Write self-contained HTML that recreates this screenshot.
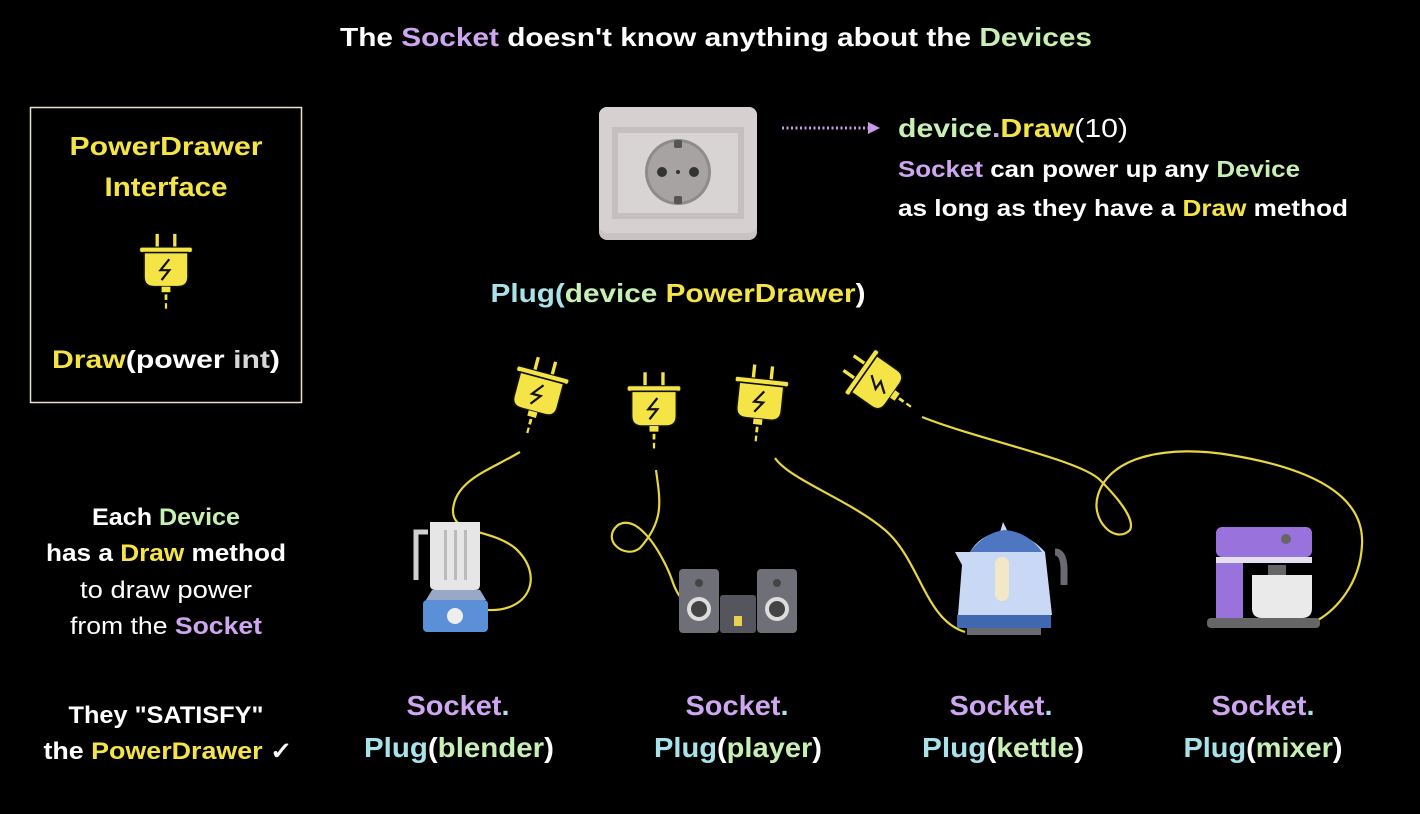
<!DOCTYPE html>
<html><head><meta charset="utf-8"><style>
html,body{margin:0;padding:0;background:#000;}
svg{display:block;font-family:"Liberation Sans",sans-serif;font-weight:bold;}
.p{fill:#cfa6f0}.g{fill:#c8f0b4}.y{fill:#f4e445}.c{fill:#a9e3ea}.w{fill:#fff}.gr{fill:#d8d8d8}
</style></head><body>
<svg width="1420" height="814" viewBox="0 0 1420 814">
<defs>
<g id="plug">
  <line x1="-8" y1="-31" x2="-8" y2="-18" stroke="#f4e445" stroke-width="3"/>
  <line x1="8" y1="-31" x2="8" y2="-18" stroke="#f4e445" stroke-width="3"/>
  <rect x="-24" y="-19" width="48" height="5" rx="2" fill="#f4e445" stroke="#111" stroke-width="1"/>
  <path d="M-20,-14 H20 V8 Q20,17 11,17 H-11 Q-20,17 -20,8 Z" fill="#f4e445" stroke="#111" stroke-width="1.5"/>
  <path d="M3,-8 L-5,2 L3,2 L-4,11" fill="none" stroke="#111" stroke-width="2"/>
  <rect x="-4" y="17" width="8" height="5" fill="#f4e445"/>
  <line x1="0" y1="24" x2="0" y2="29" stroke="#f4e445" stroke-width="2.5"/>
  <line x1="0" y1="32" x2="0" y2="37" stroke="#f4e445" stroke-width="2"/>
</g>
</defs>

<text x="716" y="46" text-anchor="middle" font-size="26" class="w" textLength="752" lengthAdjust="spacingAndGlyphs">The <tspan class="p">Socket</tspan> doesn't know anything about the <tspan class="g">Devices</tspan></text>

<rect x="30.5" y="107.5" width="271" height="295" fill="none" stroke="#e8e2c8" stroke-width="1.5"/>
<text x="166" y="155" text-anchor="middle" font-size="26" class="y" textLength="193" lengthAdjust="spacingAndGlyphs">PowerDrawer</text>
<text x="166" y="196" text-anchor="middle" font-size="27" class="y" textLength="123" lengthAdjust="spacingAndGlyphs">Interface</text>
<use href="#plug" transform="translate(166,268) scale(1.1)"/>
<text x="166" y="368" text-anchor="middle" font-size="25" class="w" textLength="228" lengthAdjust="spacingAndGlyphs"><tspan class="y">Draw</tspan>(power <tspan class="gr">int</tspan>)</text>

<rect x="599" y="107" width="158" height="133" rx="8" fill="#c9c3c3"/>
<rect x="599" y="107" width="158" height="126" rx="8" fill="#d6d0d0"/>
<rect x="612" y="127" width="132" height="92" fill="#c5bfbf"/>
<rect x="618" y="133" width="120" height="80" fill="#d9d4d4"/>
<circle cx="678" cy="172" r="33" fill="#8f8b8b"/>
<circle cx="678" cy="172" r="30" fill="#a8a3a3"/>
<rect x="674" y="140" width="8" height="8" rx="2" fill="#555"/>
<rect x="674" y="196" width="8" height="8" rx="2" fill="#555"/>
<circle cx="662" cy="172" r="5" fill="#333"/><circle cx="694" cy="172" r="5" fill="#333"/><circle cx="678" cy="172" r="2" fill="#333"/>

<line x1="782" y1="128" x2="868" y2="128" stroke="#c79be8" stroke-width="3" stroke-dasharray="2 2.5"/>
<path d="M868,122 L880,128 L868,134 Z" fill="#c79be8"/>

<text x="898" y="137" font-size="26" class="g" textLength="230" lengthAdjust="spacingAndGlyphs">device<tspan class="p">.</tspan><tspan class="y">Draw</tspan><tspan class="w" font-weight="normal">(10)</tspan></text>
<text x="898" y="177" font-size="23" class="w" textLength="402" lengthAdjust="spacingAndGlyphs"><tspan class="p">Socket</tspan> can power up any <tspan class="g">Device</tspan></text>
<text x="898" y="216" font-size="23" class="w" textLength="450" lengthAdjust="spacingAndGlyphs">as long as they have a <tspan class="y">Draw</tspan> method</text>

<text x="678" y="302" text-anchor="middle" font-size="26" class="c" textLength="375" lengthAdjust="spacingAndGlyphs">Plug(<tspan class="g">device </tspan><tspan class="y">PowerDrawer</tspan><tspan class="w">)</tspan></text>

<g fill="none" stroke="#e8d640" stroke-width="2.2">
<path d="M520,452 C490,470 455,480 453,510 C452,535 490,528 515,548 C545,575 530,612 488,610"/>
<path d="M656,470 C660,500 665,520 640,548 C625,560 600,540 618,525 C640,512 665,560 672,580 C678,598 685,605 700,608"/>
<path d="M775,458 C790,480 850,500 885,530 C920,560 925,620 965,632"/>
<path d="M922,417 C980,440 1080,460 1100,480 C1120,500 1135,520 1130,530 C1115,545 1090,520 1098,495 C1110,455 1170,445 1230,455 C1310,468 1365,495 1362,545 C1360,585 1335,610 1318,620"/>
</g>

<use href="#plug" transform="translate(538,393) rotate(15) scale(1.12)"/>
<use href="#plug" transform="translate(654,407) scale(1.12)"/>
<use href="#plug" transform="translate(760,400) rotate(6) scale(1.12)"/>
<use href="#plug" transform="translate(877,383) rotate(-55) scale(1.12)"/>

<g>
<path d="M428,532 H416 V580" fill="none" stroke="#d0d0d0" stroke-width="5"/>
<path d="M430,522 H480 V585 Q480,590 475,590 H436 Q430,590 430,585 Z" fill="#e6e6e6"/>
<rect x="444" y="530" width="3" height="50" fill="#bbb"/><rect x="454" y="530" width="3" height="50" fill="#bbb"/><rect x="464" y="530" width="3" height="50" fill="#bbb"/>
<path d="M432,590 H480 L486,600 H426 Z" fill="#9aa8c8"/>
<rect x="423" y="600" width="65" height="32" rx="4" fill="#5b8fd8"/>
<circle cx="455" cy="616" r="8" fill="#eee"/>
</g>

<rect x="679" y="569" width="40" height="64" rx="4" fill="#6f6f78"/>
<rect x="757" y="569" width="40" height="64" rx="4" fill="#6f6f78"/>
<circle cx="699" cy="583" r="4" fill="#444"/><circle cx="777" cy="583" r="4" fill="#444"/>
<circle cx="699" cy="609" r="12" fill="#ddd"/><circle cx="699" cy="609" r="8" fill="#444"/>
<circle cx="777" cy="609" r="12" fill="#ddd"/><circle cx="777" cy="609" r="8" fill="#444"/>
<rect x="720" y="595" width="36" height="38" rx="3" fill="#55555e"/>
<rect x="734" y="616" width="8" height="10" fill="#e8d050"/>

<path d="M1055,552 Q1065,552 1064,575 V585" fill="none" stroke="#6a6a72" stroke-width="7"/>
<path d="M1003,522 L1000,532 Q980,535 970,552 L955,552 L962,565 L958,615 H1052 L1045,552 Q1030,535 1008,532 Z" fill="#c8d8f5"/>
<path d="M970,552 Q985,532 1005,530 Q1028,532 1042,552 Z" fill="#4f76c0"/>
<rect x="995" y="557" width="14" height="44" rx="7" fill="#f2e8c8"/>
<rect x="957" y="615" width="94" height="13" fill="#3f68b0"/>
<rect x="967" y="628" width="74" height="7" fill="#6a6a72"/>

<rect x="1216" y="527" width="96" height="30" rx="6" fill="#9a72dc"/>
<rect x="1216" y="557" width="96" height="6" fill="#e5e0f0"/>
<rect x="1216" y="563" width="27" height="55" fill="#9a72dc"/>
<circle cx="1286" cy="539" r="5" fill="#666"/>
<rect x="1268" y="565" width="18" height="10" fill="#666"/>
<path d="M1252,575 H1312 V608 Q1312,618 1302,618 H1262 Q1252,618 1252,608 Z" fill="#eaeaea"/>
<rect x="1207" y="618" width="113" height="10" rx="4" fill="#666"/>

<g text-anchor="middle" font-size="24">
<text x="166" y="525" class="w" textLength="148" lengthAdjust="spacingAndGlyphs">Each <tspan class="g">Device</tspan></text>
<text x="166" y="561" class="w" textLength="240" lengthAdjust="spacingAndGlyphs">has a <tspan class="y">Draw</tspan> method</text>
<text x="166" y="598" class="w" font-weight="normal" textLength="172" lengthAdjust="spacingAndGlyphs">to draw power</text>
<text x="166" y="634" class="w" font-weight="normal" textLength="192" lengthAdjust="spacingAndGlyphs">from the <tspan class="p" font-weight="bold">Socket</tspan></text>
<text x="166" y="723" class="w" textLength="195" lengthAdjust="spacingAndGlyphs">They "SATISFY"</text>
<text x="168" y="759" class="w" textLength="249" lengthAdjust="spacingAndGlyphs">the <tspan class="y">PowerDrawer</tspan> ✓</text>
</g>

<g text-anchor="middle" font-size="28">
<text x="458" y="715" class="p" textLength="103" lengthAdjust="spacingAndGlyphs">Socket<tspan class="c">.</tspan></text>
<text x="459" y="757" class="c" textLength="190" lengthAdjust="spacingAndGlyphs">Plug<tspan class="w">(</tspan><tspan class="g">blender</tspan><tspan class="w">)</tspan></text>
<text x="737" y="715" class="p" textLength="103" lengthAdjust="spacingAndGlyphs">Socket<tspan class="c">.</tspan></text>
<text x="738" y="757" class="c" textLength="168" lengthAdjust="spacingAndGlyphs">Plug<tspan class="w">(</tspan><tspan class="g">player</tspan><tspan class="w">)</tspan></text>
<text x="1001" y="715" class="p" textLength="103" lengthAdjust="spacingAndGlyphs">Socket<tspan class="c">.</tspan></text>
<text x="1003" y="757" class="c" textLength="162" lengthAdjust="spacingAndGlyphs">Plug<tspan class="w">(</tspan><tspan class="g">kettle</tspan><tspan class="w">)</tspan></text>
<text x="1263" y="715" class="p" textLength="103" lengthAdjust="spacingAndGlyphs">Socket<tspan class="c">.</tspan></text>
<text x="1263" y="757" class="c" textLength="159" lengthAdjust="spacingAndGlyphs">Plug<tspan class="w">(</tspan><tspan class="g">mixer</tspan><tspan class="w">)</tspan></text>
</g>
</svg>
</body></html>
